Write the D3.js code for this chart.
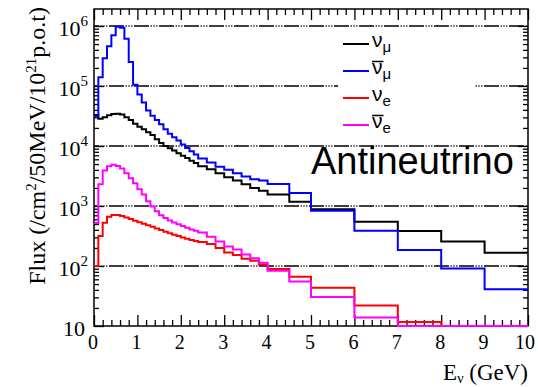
<!DOCTYPE html>
<html>
<head>
<meta charset="utf-8">
<script src="https://cdn.jsdelivr.net/npm/d3@7"></script>
<style>
  body { margin: 0; background: #fff; }
  svg { display: block; }
</style>
</head>
<body>
<svg id="chart" width="538" height="387"></svg>
<script>
// Energy bin edges (GeV)
const binEdges = [0, 0.1, 0.2, 0.3, 0.4, 0.5, 0.6, 0.7, 0.8, 0.9, 1.0, 1.1, 1.2, 1.3, 1.4, 1.5, 1.6, 1.7, 1.8, 1.9,
  2.0, 2.1, 2.2, 2.3, 2.4, 2.6, 2.8, 3.0, 3.2, 3.4, 3.6, 3.8, 4.0, 4.5, 5, 6, 7, 8, 9, 10];

// Flux per bin (/cm^2/50MeV/10^21 p.o.t)
const numu = [3.3e4, 2.85e4, 3.0e4, 3.25e4, 3.4e4, 3.45e4, 3.35e4, 3.0e4, 2.7e4, 2.35e4,
  2.1e4, 1.9e4, 1.7e4, 1.52e4, 1.3e4, 1.12e4, 1.0e4, 9.2e3, 8.4e3, 7.6e3,
  6.9e3, 6.3e3, 5.7e3, 5.2e3, 4.6e3, 4.1e3, 3.5e3, 3.0e3, 2.65e3, 2.3e3, 2.0e3, 1.8e3,
  1.55e3, 1.18e3, 880, 548, 383, 255, 167];
const numubar = [3.1e4, 1.4e5, 2.9e5, 4.6e5, 7.0e5, 9.7e5, 9.3e5, 6.1e5, 2.5e5, 1.05e5,
  7.2e4, 5.3e4, 3.9e4, 3.2e4, 2.7e4, 2.3e4, 1.9e4, 1.6e4, 1.4e4, 1.23e4,
  1.06e4, 9.3e3, 8.2e3, 7.2e3, 6.2e3, 5.3e3, 4.5e3, 4.0e3, 3.5e3, 3.1e3, 2.8e3, 2.65e3,
  2.33e3, 1.65e3, 830, 388, 185, 91, 41];
const nue = [100, 316, 525, 660, 710, 705, 680, 640, 605, 570,
  535, 505, 476, 453, 420, 398, 373, 350, 333, 316,
  298, 285, 272, 262, 252, 233, 200, 168, 152, 132, 122, 106,
  89, 66, 43.6, 22, 11.7, 9, 9];
const nuebar = [520, 2300, 3900, 4600, 4850, 4650, 4200, 3500, 2900, 2400,
  1900, 1550, 1200, 980, 820, 700, 630, 575, 530, 495,
  465, 435, 405, 385, 360, 308, 255, 212, 188, 155, 135, 113,
  83, 55, 30.5, 13.8, 9, 9, 9];

const xTickValues = [0, 1, 2, 3, 4, 5, 6, 7, 8, 9, 10];
const yDecades = [1, 2, 3, 4, 5, 6];
const gridDecades = [2, 3, 4, 5, 6];

const series = [
  { name: "numu", values: numu, color: "#000000", base: "ν", sub: "μ", bar: false },
  { name: "numubar", values: numubar, color: "#0000ff", base: "ν", sub: "μ", bar: true },
  { name: "nue", values: nue, color: "#ff0000", base: "ν", sub: "e", bar: false },
  { name: "nuebar", values: nuebar, color: "#ff00ff", base: "ν", sub: "e", bar: true }
];

const svg = d3.select("#chart");
const frameL = 94, frameR = 528, frameT = 9, frameB = 326;

const x = d3.scaleLinear().domain([0, 10]).range([frameL, frameR]);
const y = d3.scaleLog().domain([10, Math.pow(10, 6.283)]).range([frameB, frameT]).clamp(true);

const serif = "'Liberation Serif', 'Times New Roman', serif";
const sans = "'Liberation Sans', Arial, sans-serif";

svg.append("defs").append("clipPath").attr("id", "frameClip")
  .append("rect").attr("x", frameL).attr("y", frameT - 1).attr("width", frameR - frameL).attr("height", frameB - frameT + 2);

// dash-dot-dot-dot grid at each decade
svg.append("g").selectAll("line").data(gridDecades).join("line")
  .attr("x1", frameL).attr("x2", frameR)
  .attr("y1", d => y(Math.pow(10, d))).attr("y2", d => y(Math.pow(10, d)))
  .attr("stroke", "#000").attr("stroke-width", 1.3)
  .attr("stroke-dasharray", "15 1.6 1.2 1.6 1.2 1.6 1.2 1.6")
  .attr("stroke-dashoffset", 10);

// legend background
svg.append("rect").attr("x", 338).attr("y", 30).attr("width", 137).attr("height", 110).attr("fill", "#fff");

// frame
svg.append("rect").attr("x", frameL).attr("y", frameT).attr("width", frameR - frameL).attr("height", frameB - frameT)
  .attr("fill", "none").attr("stroke", "#000").attr("stroke-width", 1.5);

// ticks (inside the frame, on all four sides)
const xMinor = d3.range(0, 10.001, 0.2).map(v => +v.toFixed(1)).filter(v => !xTickValues.includes(v));
const yMinor = [];
for (let n = 1; n <= 6; n++) for (let k = 2; k <= 9; k++) {
  const v = k * Math.pow(10, n);
  if (v <= y.domain()[1]) yMinor.push(v);
}
const yMajor = yDecades.map(d => Math.pow(10, d));

function tickAxis(axis, tx, ty) {
  const g = svg.append("g").attr("transform", `translate(${tx},${ty})`).call(axis);
  g.select(".domain").remove();
  g.selectAll(".tick line").attr("stroke", "#000").attr("stroke-width", 1.3);
  g.selectAll(".tick text").remove();
  return g;
}
tickAxis(d3.axisBottom(x).tickValues(xTickValues).tickSize(-11), 0, frameB);
tickAxis(d3.axisBottom(x).tickValues(xMinor).tickSize(-6), 0, frameB);
tickAxis(d3.axisTop(x).tickValues(xTickValues).tickSize(-11), 0, frameT);
tickAxis(d3.axisTop(x).tickValues(xMinor).tickSize(-6), 0, frameT);
tickAxis(d3.axisLeft(y).tickValues(yMajor).tickSize(-10), frameL, 0);
tickAxis(d3.axisLeft(y).tickValues(yMinor).tickSize(-5), frameL, 0);
tickAxis(d3.axisRight(y).tickValues(yMajor).tickSize(-10), frameR, 0);
tickAxis(d3.axisRight(y).tickValues(yMinor).tickSize(-5), frameR, 0);

// histograms, drawn over the frame
const step = d3.line().curve(d3.curveStepAfter).x(d => x(d[0])).y(d => y(d[1]));
const hg = svg.append("g").attr("clip-path", "url(#frameClip)");
series.forEach(s => {
  const pts = s.values.map((v, i) => [binEdges[i], v]);
  pts.push([binEdges[binEdges.length - 1], s.values[s.values.length - 1]]);
  hg.append("path").datum(pts)
    .attr("d", step)
    .attr("fill", "none")
    .attr("stroke", s.color)
    .attr("stroke-width", 2);
});

// x tick labels
svg.append("g").selectAll("text").data(xTickValues).join("text")
  .attr("x", d => x(d) - (d === 10 ? 3 : 1))
  .attr("y", 349)
  .attr("text-anchor", "middle")
  .attr("font-family", serif).attr("font-size", 20).attr("fill", "#000")
  .text(d => d);

// y tick labels: 10^n
const yl = svg.append("g").selectAll("text").data(yDecades).join("text")
  .attr("x", d => d === 1 ? 85 : 88)
  .attr("y", d => y(Math.pow(10, d)) + 10)
  .attr("text-anchor", "end")
  .attr("font-family", serif).attr("font-size", 22).attr("fill", "#000");
yl.append("tspan").text("10");
yl.filter(d => d > 1).append("tspan").attr("font-size", 15).attr("dy", -10).text(d => d);

// axis titles
const xt = svg.append("text").attr("x", frameR).attr("y", 380).attr("text-anchor", "end")
  .attr("font-family", serif).attr("font-size", 23).attr("fill", "#000");
xt.append("tspan").text("E");
xt.append("tspan").attr("font-size", 14).attr("dy", 3).text("ν");
xt.append("tspan").attr("dy", -3).text(" (GeV)");

const ytl = svg.append("text").attr("transform", "translate(45,7) rotate(-90)")
  .attr("text-anchor", "end")
  .attr("font-family", serif).attr("font-size", 24).attr("fill", "#000");
ytl.append("tspan").text("Flux (/cm");
ytl.append("tspan").attr("font-size", 15).attr("dy", -9).text("2");
ytl.append("tspan").attr("dy", 9).text("/50MeV/10");
ytl.append("tspan").attr("font-size", 15).attr("dy", -9).text("21");
ytl.append("tspan").attr("dy", 9).text("p.o.t)");

// legend
const legRows = [44, 71, 98, 125];
series.forEach((s, i) => {
  const ly = legRows[i];
  svg.append("line").attr("x1", 343).attr("x2", 369).attr("y1", ly).attr("y2", ly)
    .attr("stroke", s.color).attr("stroke-width", 2);
  const t = svg.append("text").attr("x", 372).attr("y", ly + 3)
    .attr("font-family", sans).attr("font-size", 21).attr("fill", "#000");
  t.append("tspan").text(s.base);
  t.append("tspan").attr("font-size", 15).attr("dy", 5).text(s.sub);
  if (s.bar) {
    svg.append("line").attr("x1", 372).attr("x2", 383.5)
      .attr("y1", ly + 3 - 12.5).attr("y2", ly + 3 - 12.5)
      .attr("stroke", "#000").attr("stroke-width", 1.5);
  }
});

// mode label
svg.append("text").attr("x", 311).attr("y", 174)
  .attr("font-family", sans).attr("font-size", 38).attr("fill", "#000")
  .text("Antineutrino");
</script>
</body>
</html>
